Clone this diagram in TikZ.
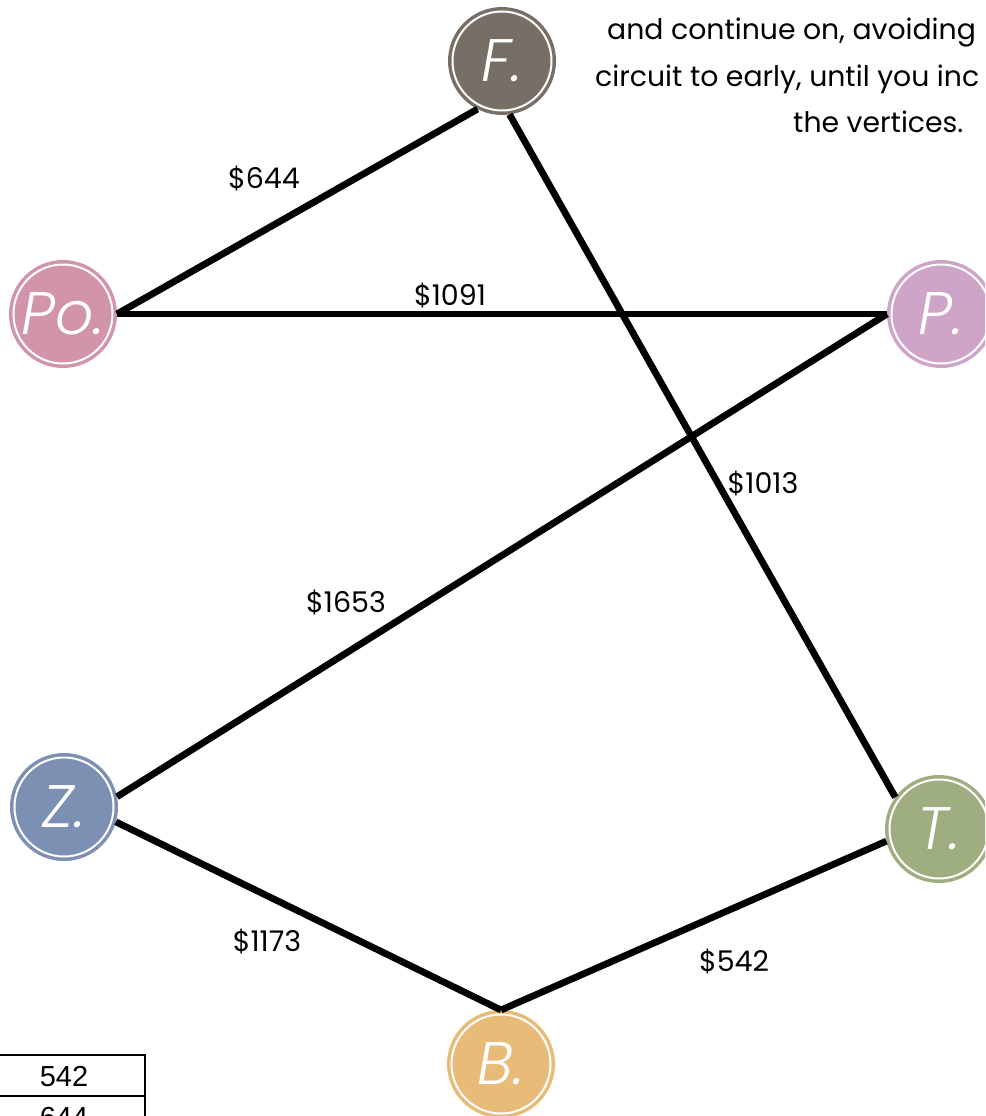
\documentclass[tikz,border=0pt]{standalone}
\usepackage{fontspec}
\setmainfont{Poppins}
\newfontfamily\tablefont{Liberation Sans}
\newfontfamily\vertexfont{Poppins Light Italic}

\definecolor{cF}{RGB}{119,111,101}
\definecolor{cPo}{RGB}{209,148,168}
\definecolor{cP}{RGB}{207,164,201}
\definecolor{cZ}{RGB}{124,144,180}
\definecolor{cT}{RGB}{158,174,128}
\definecolor{cB}{RGB}{232,188,120}

\begin{document}
\begin{tikzpicture}[x=1pt,y=-1pt,
  vertex/.style={circle, fill=#1, minimum size=108pt, inner sep=0pt, outer sep=0pt,
    text=white, font=\vertexfont\fontsize{60}{62}\selectfont},
  ring/.style={draw=white, line width=2pt},
  road/.style={line width=6.8pt, black},
  cost/.style={font=\fontsize{28.5}{32}\selectfont, inner sep=0pt},
  note/.style={font=\fontsize{28.3}{32}\selectfont, inner sep=0pt, anchor=base west},
  grid/.style={line width=1.3pt, black},
  cell/.style={font=\tablefont\fontsize{29}{32}\selectfont, inner sep=0pt}]
\useasboundingbox (0,0) rectangle (985,1116);
\clip (0,0) rectangle (985,1116);

% instructions text in the upper right corner
\node[note] (n1) at (607,40) {and continue on, avoiding};
\node[note] (n2) at (595,86) {circuit to early, until you inc};
\node[note] (n3) at (793,132) {the vertices.};

% cities
\node[vertex=cF]  (F)  at (502,61)   {F.};
\node[vertex=cPo] (Po) at (63,314)   {Po.};
\node[vertex=cP]  (P)  at (941,314)  {P.};
\node[vertex=cZ]  (Z)  at (64,807)   {Z.};
\node[vertex=cT]  (T)  at (939,829)  {T.};
\node[vertex=cB]  (B)  at (501,1064) {B.};

% routes
\draw[road] (Po.east) -- (F.243);
\draw[road] (Po.east) -- (P.west);
\draw[road] (F.278) -- (T.144);
\draw[road] (Z.11) -- (P.west);
\draw[road] (Z.344) -- (B.north);
\draw[road] (B.north) -- (T.193);

% inner white rings
\foreach \v in {F,Po,P,Z,T,B}
  \draw[ring] (\v.center) circle[radius=49.5];

% fares
\node[cost] (c644)  at (264,179) {\$644};
\node[cost] (c1091) at (450,296) {\$1091};
\node[cost] (c1013) at (763,484) {\$1013};
\node[cost] (c1653) at (346,603) {\$1653};
\node[cost] (c1173) at (267,941) {\$1173};
\node[cost] (c542)  at (734,961) {\$542};

% sorted fares table
\draw[grid] (0,1055) -- (145,1055) -- (145,1116);
\draw[grid] (0,1096) -- (145,1096);
\node[cell] (r1) at (64,1077) {542};
\node[cell] (r2) at (64,1118) {644};
\end{tikzpicture}
\end{document}
